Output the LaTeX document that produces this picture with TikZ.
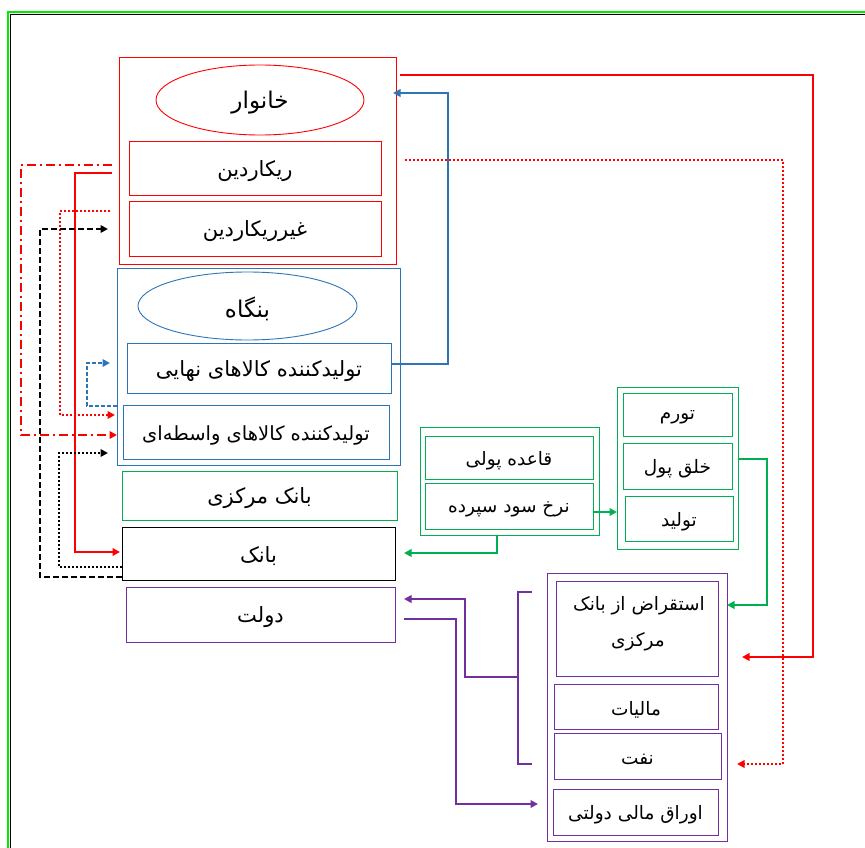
\documentclass[tikz,border=0pt]{standalone}
\usepackage{fontspec}
\usetikzlibrary{arrows.meta,shapes.geometric}
\newfontfamily\fa[Script=Arabic]{DejaVu Sans}
\TeXXeTstate=1
\definecolor{cred}{RGB}{255,0,0}
\definecolor{cblue}{RGB}{46,117,182}
\definecolor{cgreen}{RGB}{0,176,80}
\definecolor{cpurple}{RGB}{112,48,160}
\definecolor{fgreen}{RGB}{0,235,0}
\newcommand{\fat}[1]{\raisebox{-3pt}[\height][\depth]{\fa\beginR #1\endR}}
\begin{document}
\begin{tikzpicture}[x=1pt,y=-1pt,
  box/.style={draw, line width=0.9pt, inner sep=0pt, outer sep=0pt, align=center, font=\fontsize{21}{24}\selectfont},
  sbox/.style={box, font=\fontsize{18.5}{22}\selectfont},
  oval/.style={ellipse, draw, line width=0.9pt, inner sep=0pt, outer sep=0pt, font=\fontsize{23}{26}\selectfont},
  lbl/.style={inner sep=0pt, font=\fontsize{18.5}{22}\selectfont},
  conn/.style={line width=2pt},
  arr/.style={-{Triangle[length=7.5pt,width=7.5pt]}},
  dotl/.style={dash pattern=on 2pt off 2pt},
  dashl/.style={dash pattern=on 6pt off 3pt},
  dashdotl/.style={dash pattern=on 9pt off 4pt on 2pt off 4pt}
]
\useasboundingbox (0,0) rectangle (865,848);
\fill[white] (0,0) rectangle (865,848);
% frame
\draw[fgreen, line width=2.5pt] (8,848) -- (8,12) -- (865,12);
\draw[black, line width=1.5pt] (10.5,848) -- (10.5,14.5) -- (865,14.5);

% household
\node[box, draw=cred, minimum width=277pt, minimum height=207pt] (hh) at (257.5,160.5) {};
\node[oval, draw=cred, minimum width=208pt, minimum height=70pt] (hhE) at (260,100) {\fat{خانوار}};
\node[box, draw=cred, minimum width=252pt, minimum height=54pt] (ric) at (255,168) {\fat{ریکاردین}};
\node[box, draw=cred, minimum width=252pt, minimum height=55pt] (nric) at (255,228.5) {\fat{غیرریکاردین}};

% firm
\node[box, draw=cblue, minimum width=283pt, minimum height=197pt] (firm) at (258.5,366.5) {};
\node[oval, draw=cblue, minimum width=219pt, minimum height=68pt] (firmE) at (247.5,306) {\fat{بنگاه}};
\node[box, draw=cblue, minimum width=264pt, minimum height=50pt] (fin) at (259,368) {\fat{تولیدکننده کالاهای نهایی}};
\node[box, draw=cblue, minimum width=266pt, minimum height=54pt, font=\fontsize{19.5}{22}\selectfont] (mid) at (256,432) {\fat{تولیدکننده کالاهای واسطه‌ای}};

% central bank, bank, government
\node[box, draw=cgreen, minimum width=275pt, minimum height=49pt] (cb) at (259.5,495.5) {\fat{بانک مرکزی}};
\node[box, draw=black, minimum width=273pt, minimum height=53pt] (bank) at (258.5,553.5) {\fat{بانک}};
\node[box, draw=cpurple, minimum width=269pt, minimum height=55pt] (gov) at (260.5,614.5) {\fat{دولت}};

% monetary group
\node[box, draw=cgreen, minimum width=179pt, minimum height=108pt] (mon) at (509.5,481) {};
\node[sbox, draw=cgreen, minimum width=168pt, minimum height=43pt] (mb) at (509,457.5) {\fat{قاعده پولی}};
\node[sbox, draw=cgreen, minimum width=168pt, minimum height=46pt] (ir) at (509,506) {\fat{نرخ سود سپرده}};

% effects group
\node[box, draw=cgreen, minimum width=121pt, minimum height=162pt] (eff) at (677.5,468) {};
\node[sbox, draw=cgreen, minimum width=109pt, minimum height=43pt] (inf) at (677.5,414.5) {\fat{تورم}};
\node[sbox, draw=cgreen, minimum width=109pt, minimum height=46pt] (mc) at (677.5,466) {\fat{خلق پول}};
\node[sbox, draw=cgreen, minimum width=108pt, minimum height=45pt] (prod) at (679,518.5) {\fat{تولید}};

% government finance group
\node[box, draw=cpurple, minimum width=180pt, minimum height=268pt] (gf) at (637,707) {};
\node[box, draw=cpurple, minimum width=162pt, minimum height=95pt] (bor) at (637,628.5) {};
\node[lbl] (borA) at (639,603) {\fat{استقراض از بانک}};
\node[lbl] (borB) at (638,639) {\fat{مرکزی}};
\node[sbox, draw=cpurple, minimum width=164pt, minimum height=45pt] (tax) at (636,706.5) {\fat{مالیات}};
\node[sbox, draw=cpurple, minimum width=167pt, minimum height=46pt] (oil) at (637.5,756) {\fat{نفت}};
\node[sbox, draw=cpurple, minimum width=165pt, minimum height=46pt] (bonds) at (635.5,812) {\fat{اوراق مالی دولتی}};

% bracket coordinates
\coordinate (brT) at (532,592);
\coordinate (brTi) at (518,592);
\coordinate (brBi) at (518,764);
\coordinate (brB) at (532,764);
\coordinate (brM) at (518,677);

% ---- right side connectors
\draw[conn, cred, line width=2.5pt, arr, shorten <=4pt, shorten >=15pt] (hh.east |- 0,75) -- (813,75) |- (gf.east |- 0,657);
\draw[conn, cblue, arr, shorten >=-3pt] (fin.east |- 0,364) -- (448,364) |- (hh.east |- 0,93);
\draw[conn, cred, dotl, arr, shorten <=9pt, shorten >=10pt] (hh.east |- 0,160) -- (783,160) |- (gf.east |- 0,764);
\draw[conn, cgreen, arr] (eff.east |- 0,459) -- (767,459) |- (gf.east |- 0,605);
\draw[conn, cgreen, arr] (ir.east |- 0,512) -- (eff.west |- 0,512);
\draw[conn, cgreen, arr, shorten >=9pt] (mon.south -| 497,0) -- (497,553) -- (bank.east |- 0,553);
\draw[conn, cpurple] (brT) -- (brTi) -- (brBi) -- (brB);
\draw[conn, cpurple, arr, shorten >=9pt] (brM) -- (465,677) |- (gov.east |- 0,599);
\draw[conn, cpurple, arr, shorten <=9pt, shorten >=9pt] (gov.east |- 0,619) -- (456,619) |- (gf.west |- 0,804);

% ---- left side connectors
\draw[conn, cred, dashdotl, arr, shorten <=7pt] (hh.west |- 0,165) -- (21,165) |- (firm.west |- 0,435);
\draw[conn, cred, arr, shorten <=7pt, shorten >=2pt] (hh.west |- 0,173) -- (75,173) |- (bank.west |- 0,552);
\draw[conn, cred, dotl, arr, shorten <=9pt, shorten >=2pt] (hh.west |- 0,211) -- (60,211) |- (firm.west |- 0,415);
\draw[conn, black, dashl, arr, shorten >=11pt] (bank.west |- 0,577) -- (40,577) |- (hh.west |- 0,229);
\draw[conn, black, dotl, arr, shorten >=9pt] (bank.west |- 0,567) -- (59,567) |- (firm.west |- 0,453);
\draw[conn, cblue, dash pattern=on 4pt off 2pt, arr, shorten >=17pt] (firm.west |- 0,406) -- (87,406) |- (fin.west |- 0,363);
\end{tikzpicture}
\end{document}
